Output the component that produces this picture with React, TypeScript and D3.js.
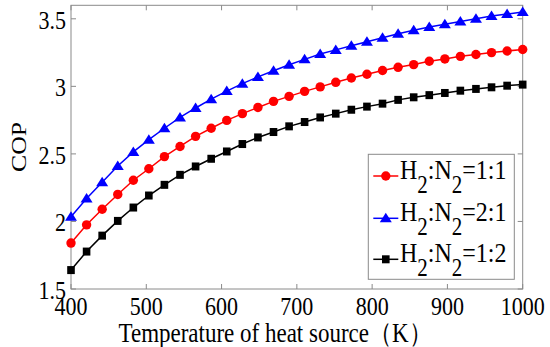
import React from "react";
import * as d3 from "d3";

const temps = [400, 420.7, 441.4, 462.1, 482.8, 503.4, 524.1, 544.8, 565.5, 586.2, 606.9, 627.6, 648.3, 669, 689.7, 710.3, 731, 751.7, 772.4, 793.1, 813.8, 834.5, 855.2, 875.9, 896.6, 917.2, 937.9, 958.6, 979.3, 1000];
const cop11 = [1.84, 1.975, 2.09, 2.2, 2.305, 2.39, 2.48, 2.555, 2.63, 2.69, 2.748, 2.798, 2.844, 2.889, 2.926, 2.963, 2.996, 3.03, 3.062, 3.09, 3.117, 3.141, 3.161, 3.186, 3.203, 3.222, 3.236, 3.25, 3.262, 3.273];
const cop21 = [2.035, 2.17, 2.29, 2.41, 2.515, 2.605, 2.69, 2.77, 2.84, 2.905, 2.965, 3.02, 3.07, 3.115, 3.16, 3.2, 3.24, 3.27, 3.3, 3.33, 3.36, 3.39, 3.415, 3.44, 3.46, 3.48, 3.5, 3.52, 3.535, 3.55];
const cop12 = [1.64, 1.777, 1.895, 2.004, 2.103, 2.192, 2.271, 2.345, 2.407, 2.464, 2.518, 2.573, 2.622, 2.662, 2.704, 2.736, 2.77, 2.798, 2.827, 2.85, 2.872, 2.9, 2.919, 2.935, 2.951, 2.968, 2.981, 2.993, 3.005, 3.013];
const xTicks = [400, 500, 600, 700, 800, 900, 1000];
const yTicks = [1.5, 2, 2.5, 3, 3.5];
const legendRatios = ["1:1", "2:1", "1:2"];

const series = [
  { values: cop11, color: "#ff0000", marker: "circle", ratio: legendRatios[0] },
  { values: cop21, color: "#0000ff", marker: "triangle", ratio: legendRatios[1] },
  { values: cop12, color: "#000000", marker: "square", ratio: legendRatios[2] },
];

const FONT = "'Liberation Serif', 'Times New Roman', serif";
const SY = 1.17;
const AXIS = "#8a8a8a";

function Marker({ type, x, y, color }: { type: string; x: number; y: number; color: string }) {
  if (type === "circle") return <circle cx={x} cy={y} r={4.7} fill={color} />;
  if (type === "square") return <rect x={x - 3.8} y={y - 4} width={7.6} height={8} fill={color} />;
  return <path d={`M${x},${y - 5.5}L${x + 6},${y + 4}L${x - 6},${y + 4}Z`} fill={color} />;
}

function T({ x, y, anchor = "start", size = 22, children, rotate = false }: any) {
  const tr = rotate
    ? `translate(${x},${y}) rotate(-90) scale(${SY},1)`
    : `translate(${x},${y}) scale(1,${SY})`;
  return (
    <text transform={tr} textAnchor={anchor} fontFamily={FONT} fontSize={size} fill="#000">
      {children}
    </text>
  );
}

export default function App() {
  const W = 550, H = 347;
  const left = 71, right = 522.7, top = 5.3, bottom = 289;
  const x = d3.scaleLinear().domain([400, 1000]).range([left, right]);
  const y = d3.scaleLinear().domain([1.5, 3.6]).range([bottom, top]);
  const line = d3.line<number>().x((_, i) => x(temps[i])).y((d) => y(d));
  const tl = 5;
  const legY = [176, 218.3, 259.3];

  return (
    <svg width={W} height={H} style={{ position: "absolute", left: 0, top: 0, background: "#fff" }}>
      <rect x={0} y={0} width={W} height={H} fill="#fff" />
      {xTicks.map((t) => (
        <g key={"xt" + t}>
          <line x1={x(t)} x2={x(t)} y1={bottom} y2={bottom - tl} stroke={AXIS} />
          <line x1={x(t)} x2={x(t)} y1={top} y2={top + tl} stroke={AXIS} />
          <T x={x(t)} y={315} anchor="middle">{t}</T>
        </g>
      ))}
      {yTicks.map((t) => (
        <g key={"yt" + t}>
          <line x1={left} x2={left + tl} y1={y(t)} y2={y(t)} stroke={AXIS} />
          <line x1={right} x2={right - tl} y1={y(t)} y2={y(t)} stroke={AXIS} />
          <T x={66} y={y(t) + 10} anchor="end">{t}</T>
        </g>
      ))}
      <rect x={left} y={top} width={right - left} height={bottom - top} fill="none" stroke={AXIS} />
      {series.map((s, si) => (
        <g key={"s" + si}>
          <path d={line(s.values) || ""} fill="none" stroke={s.color} strokeWidth={1.5} />
          {s.values.map((v, i) => (
            <Marker key={i} type={s.marker} x={x(temps[i])} y={y(v)} color={s.color} />
          ))}
        </g>
      ))}
      <rect x={368.3} y={154.3} width={146} height={125} fill="#fff" stroke={AXIS} />
      {series.map((s, si) => (
        <g key={"l" + si}>
          <line x1={373.3} x2={398.3} y1={legY[si]} y2={legY[si]} stroke={s.color} strokeWidth={1.5} />
          <Marker type={s.marker} x={385.8} y={legY[si]} color={s.color} />
          <text transform={`translate(400,${legY[si] + 3}) scale(1,${SY})`} fontFamily={FONT} fontSize={24} fill="#000">
            <tspan>H</tspan>
            <tspan dy={12} fontSize={21}>2</tspan>
            <tspan dy={-12}>:N</tspan>
            <tspan dy={12} fontSize={21}>2</tspan>
            <tspan dy={-12}>={s.ratio}</tspan>
          </text>
        </g>
      ))}
      <T x={275} y={342} anchor="middle" size={23}>Temperature of heat source（K）</T>
      <T x={26} y={147} anchor="middle" rotate>COP</T>
    </svg>
  );
}
